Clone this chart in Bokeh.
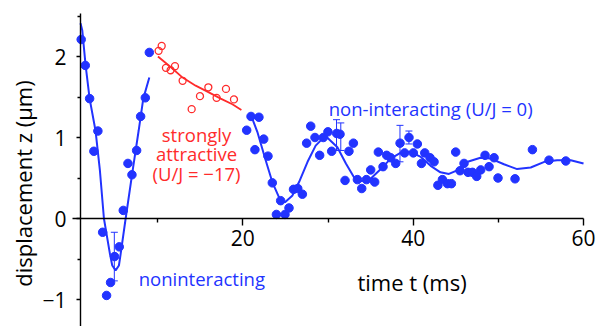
from bokeh.plotting import figure
from bokeh.models import Range1d, FixedTicker, Label, Whisker, TeeHead, ColumnDataSource
from bokeh.embed import file_html
from bokeh.resources import INLINE

BLUE = "#2233ff"
RED = "#ff2b2b"
FONT = "Open Sans"

# ---------------- data ----------------
# non-interacting, first oscillation (t in ms, z in µm)
blue1_t = [1.02, 1.50, 2.01, 2.51, 2.98, 3.54, 4.00, 4.47, 4.94, 5.49, 5.96, 6.51, 6.98, 7.53, 8.00, 8.55, 9.02]
blue1_z = [2.21, 1.89, 1.48, 0.83, 1.08, -0.17, -0.95, -0.79, -0.47, -0.35, 0.10, 0.68, 0.54, 0.84, 1.26, 1.49, 2.05]

# non-interacting, after 20 ms
blue2_t = [20.45, 20.96, 21.42, 21.89, 22.45, 22.95, 23.46, 23.94, 24.44, 24.95, 25.42, 25.95, 26.45, 26.99,
           27.49, 27.97, 28.47, 29.02, 29.45, 29.99, 30.43, 31.02, 31.41, 32.00, 32.46, 32.98, 33.45, 33.96,
           34.51, 35.01, 35.48, 35.91, 36.46, 36.89, 37.36, 37.95, 38.46, 38.99, 39.51, 40.02, 40.49, 40.97,
           41.36, 41.98, 42.45, 42.90, 43.43, 44.02, 44.49, 44.99, 45.50, 45.97, 46.44, 46.96, 47.46, 47.93,
           48.44, 48.91, 49.50, 49.96, 51.96, 54.00, 55.95, 57.92]
blue2_z = [1.09, 1.26, 0.85, 1.25, 0.98, 0.77, 0.44, 0.05, 0.22, 0.05, 0.13, 0.36, 0.37, 0.30,
           0.93, 1.14, 1.00, 0.78, 1.00, 1.07, 0.83, 1.05, 1.04, 0.47, 0.83, 0.93, 0.48, 0.37,
           0.48, 0.60, 0.45, 0.82, 0.64, 0.78, 0.75, 0.68, 0.93, 0.81, 1.00, 0.81, 0.92, 0.68,
           0.81, 0.75, 0.70, 0.41, 0.48, 0.43, 0.43, 0.82, 0.59, 0.68, 0.57, 0.57, 0.52, 0.60,
           0.78, 0.64, 0.75, 0.50, 0.49, 0.85, 0.72, 0.71]

# strongly attractive (U/J = -17)
red_t = [10.11, 10.47, 10.97, 11.52, 12.03, 12.93, 13.99, 14.97, 15.95, 16.92, 18.02, 18.96]
red_z = [2.07, 2.13, 1.86, 1.83, 1.88, 1.70, 1.35, 1.51, 1.62, 1.49, 1.60, 1.47]

# fit curves
fit1_t = [0.94, 1.15, 1.54, 2.01, 2.71, 3.22, 3.69, 4.40, 4.67, 5.06, 5.45, 5.65, 6.24, 7.06, 7.76, 8.31, 9.02]
fit1_z = [2.41, 2.32, 1.89, 1.48, 1.08, 0.59, 0.00, -0.44, -0.58, -0.64, -0.58, -0.44, 0.00, 0.59, 1.08, 1.48, 1.74]

fit2_t = [20.9, 21.7, 22.68, 23.46, 24.25, 24.95, 25.8, 26.6, 27.6, 28.55, 29.3, 29.9, 31.1, 32.1, 33.05,
          33.83, 35.0, 36.2, 37.36, 38.5, 39.7, 40.9, 42.05, 43.2, 44.2, 45.3, 46.4, 47.9, 49.1, 50.66,
          52.2, 53.8, 55.4, 56.9, 58.5, 60.0]
fit2_z = [1.29, 1.07, 0.72, 0.45, 0.26, 0.20, 0.28, 0.45, 0.70, 0.90, 0.98, 1.00, 0.88, 0.68, 0.51,
          0.46, 0.49, 0.61, 0.74, 0.81, 0.82, 0.76, 0.65, 0.57, 0.55, 0.60, 0.70, 0.75, 0.74, 0.67,
          0.61, 0.63, 0.70, 0.72, 0.72, 0.68]

red_fit_t = [10.03, 11.52, 12.93, 14.46, 15.95, 17.40, 18.77, 19.83]
red_fit_z = [2.00, 1.87, 1.74, 1.64, 1.56, 1.48, 1.41, 1.34]

# error bars
err_t = [4.91, 31.0, 31.5, 38.45, 39.5]
err_lo = [-0.77, 0.84, 0.84, 0.70, 0.92]
err_hi = [-0.17, 1.22, 1.18, 1.15, 1.08]

x_ticks = [20, 40, 60]
x_minor = [10, 30, 50]
y_ticks = [-1, 0, 1, 2]
y_minor = [-0.5, 0.5, 1.5, 2.5]

# ---------------- figure ----------------
PX_PER_MS = 8.517
PX_PER_UM = 81.0
p = figure(width=598, height=326, output_backend="svg", toolbar_location=None,
           x_range=Range1d(-72 / PX_PER_MS, 526 / PX_PER_MS),
           y_range=Range1d(-108 / PX_PER_UM, 218 / PX_PER_UM),
           min_border_left=0, min_border_right=0, min_border_top=0, min_border_bottom=0)
p.outline_line_color = None
p.xgrid.visible = False
p.ygrid.visible = False
p.background_fill_color = "white"
p.border_fill_color = "white"

xa = p.xaxis[0]
xa.fixed_location = 0
xa.bounds = (0, 60)
xa.ticker = FixedTicker(ticks=x_ticks, minor_ticks=x_minor)
xa.major_tick_out = 7
xa.major_tick_in = 0
xa.minor_tick_out = 4
xa.minor_tick_in = 0
xa.axis_line_width = 1.4
xa.major_tick_line_width = 1.4
xa.minor_tick_line_width = 1.4
xa.major_label_text_font = FONT
xa.major_label_text_font_size = "21px"
xa.major_label_text_color = "black"
xa.major_label_standoff = 4

ya = p.yaxis[0]
ya.fixed_location = 0.94
ya.bounds = (-1.34, 2.53)
ya.ticker = FixedTicker(ticks=y_ticks, minor_ticks=y_minor)
ya.major_tick_out = 4
ya.major_tick_in = 0
ya.minor_tick_out = 3
ya.minor_tick_in = 0
ya.axis_line_width = 1.4
ya.major_tick_line_width = 1.4
ya.minor_tick_line_width = 1.4
ya.major_label_text_font = FONT
ya.major_label_text_font_size = "21px"
ya.major_label_text_color = "black"
ya.major_label_standoff = 10

# fit lines
p.line(fit1_t, fit1_z, line_color=BLUE, line_width=2)
p.line(fit2_t, fit2_z, line_color=BLUE, line_width=2)
p.line(red_fit_t, red_fit_z, line_color=RED, line_width=1.8)

# data
p.scatter(blue1_t, blue1_z, size=8.5, fill_color=BLUE, line_color=BLUE)
p.scatter(blue2_t, blue2_z, size=8.5, fill_color=BLUE, line_color=BLUE)
p.scatter(red_t, red_z, size=7, fill_color=None, line_color=RED, line_width=1.3)

esrc = ColumnDataSource(dict(t=err_t, lo=err_lo, hi=err_hi))
p.add_layout(Whisker(base="t", lower="lo", upper="hi", source=esrc, line_color=BLUE, line_width=1,
                     upper_head=TeeHead(size=7, line_color=BLUE, line_width=1),
                     lower_head=TeeHead(size=7, line_color=BLUE, line_width=1)))

# text
def lab(x, y, text, color="black", size="18.5px", align="left", angle=0, baseline="alphabetic"):
    p.add_layout(Label(x=x, y=y, text=text, text_color=color, text_font=FONT, text_font_size=size,
                       text_align=align, text_baseline=baseline, angle=angle))

lab(7.78, -0.741, "noninteracting", BLUE)
lab(30.09, 1.362, "non-interacting (U/J = 0)", BLUE)
lab(14.56, 1.037, "strongly", RED, align="center")
lab(14.56, 0.799, "attractive", RED, align="center")
lab(14.56, 0.559, "(U/J = \u221217)", RED, align="center")
lab(33.46, -0.786, "time t (ms)", "black", size="22px")
lab(-5.81, 0.432, "displacement z (\u00b5m)", "black", size="22px", align="center",
    angle=1.5707963, baseline="middle")

open("out.html", "w").write(file_html(p, INLINE))
